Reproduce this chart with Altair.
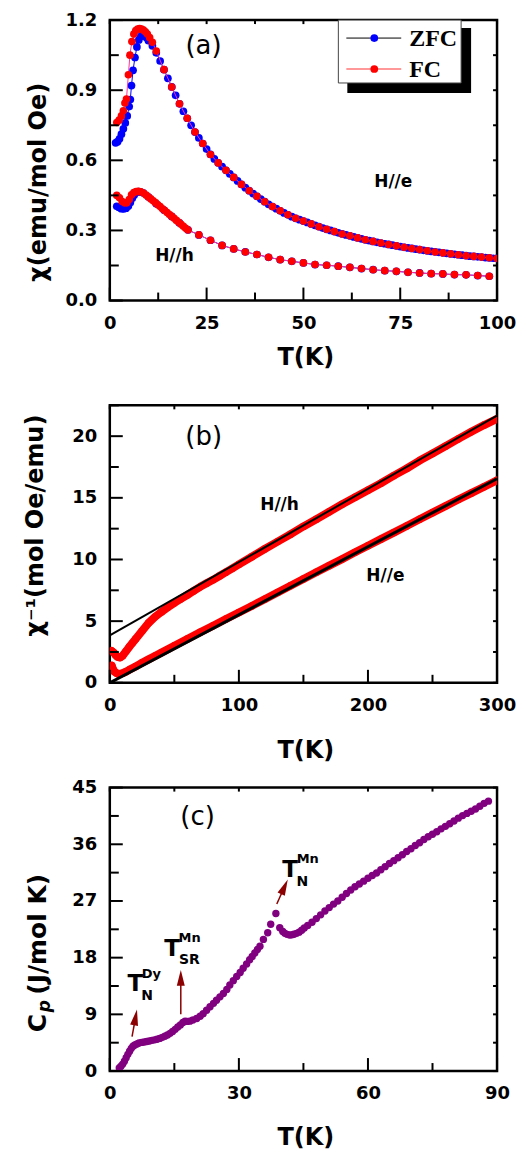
import altair as alt
import pandas as pd

FONT = "DejaVu Sans"

# ---------------- panel (a): chi(T) ----------------
he_zfc_T = [1.5, 2.0, 2.5, 3.0, 3.5, 4.0, 4.5, 5.0, 5.3, 5.6, 6.0, 6.5, 7.0, 7.5, 8.0, 8.5, 9.0, 9.5, 10,
            11, 12, 13, 14, 15, 16, 17, 18, 19, 20, 21, 22, 23, 24, 25, 26, 27, 28, 29, 30,
            31, 32, 33, 34, 35, 36, 37, 38, 39, 40, 41, 42, 43, 44, 45, 46, 47, 48, 49, 50,
            51, 52, 53, 54, 55, 56, 57, 58, 59, 60, 61, 62, 63, 64, 65, 66, 67, 68, 69, 70,
            71, 72, 73, 74, 75, 76, 77, 78, 79, 80, 81, 82, 83, 84, 85, 86, 87, 88, 89, 90,
            91, 92, 93, 94, 95, 96, 97, 98, 99, 100]
he_zfc_chi = [0.675, 0.680, 0.692, 0.712, 0.735, 0.760, 0.790, 0.830, 0.860, 0.920, 0.985, 1.040, 1.085, 1.115,
              1.130, 1.138, 1.135, 1.125, 1.112,
              1.090, 1.060, 1.025, 0.988, 0.951, 0.914, 0.878, 0.842, 0.810, 0.780,
              0.750, 0.721, 0.696, 0.672, 0.648, 0.625, 0.606, 0.589, 0.573, 0.557,
              0.542, 0.527, 0.512, 0.497, 0.483, 0.470, 0.458, 0.446, 0.434, 0.423,
              0.412, 0.402, 0.393, 0.384, 0.375, 0.367, 0.359, 0.352, 0.346, 0.340,
              0.334, 0.328, 0.322, 0.316, 0.310, 0.305, 0.300, 0.295, 0.290, 0.285,
              0.281, 0.277, 0.272, 0.268, 0.264, 0.260, 0.256, 0.253, 0.249, 0.246,
              0.243, 0.240, 0.237, 0.234, 0.231, 0.228, 0.225, 0.223, 0.220, 0.218,
              0.215, 0.213, 0.210, 0.208, 0.206, 0.204, 0.202, 0.200, 0.198, 0.196,
              0.194, 0.192, 0.190, 0.189, 0.187, 0.186, 0.184, 0.183, 0.181, 0.180]

he_fc_T = [1.8, 2.4, 3.0, 3.5, 3.9, 4.3, 4.8, 5.2, 5.7, 6.2, 6.7, 7.2, 7.7, 8.2, 8.7, 9.2, 9.7, 10.3, 11.0,
           12, 14, 16, 18, 20, 22, 24, 26, 28, 30, 32, 34, 36, 38, 40, 42, 44, 46, 48, 50,
           52, 54, 56, 58, 60, 62, 64, 66, 68, 70, 72, 74, 76, 78, 80, 82, 84, 86, 88, 90,
           92, 94, 96, 98, 100]
he_fc_chi = [0.762, 0.772, 0.790, 0.812, 0.845, 0.862, 0.966, 1.050, 1.108, 1.140, 1.155, 1.162, 1.164,
             1.162, 1.157, 1.150, 1.140, 1.125, 1.105,
             1.068, 0.988, 0.914, 0.842, 0.780, 0.721, 0.672, 0.625, 0.589, 0.557, 0.527, 0.497,
             0.470, 0.446, 0.423, 0.402, 0.384, 0.367, 0.352, 0.340, 0.328, 0.316, 0.305, 0.295,
             0.285, 0.277, 0.268, 0.260, 0.253, 0.246, 0.240, 0.234, 0.228, 0.223, 0.218, 0.213,
             0.208, 0.204, 0.200, 0.196, 0.192, 0.189, 0.186, 0.183, 0.180]

hh_fc_T = [1.8, 2.5, 3.2, 3.8, 4.4, 5.0, 5.6, 6.2, 6.8, 7.4, 8.0, 8.7, 9.4, 10.0, 10.6, 11.2, 11.8, 12.4,
           13.0, 13.6, 14.2, 14.8, 15.4, 16.0, 16.6, 17.2, 17.8, 18.4, 19.0, 19.6, 20.2,
           23, 26, 29, 32, 35, 38, 41, 44, 47, 50, 53, 56, 59, 62, 65, 68, 71, 74, 77, 80,
           83, 86, 89, 92, 95, 98]
hh_fc_chi = [0.450, 0.440, 0.424, 0.418, 0.418, 0.432, 0.452, 0.462, 0.466, 0.467, 0.465, 0.460, 0.451,
             0.443, 0.435, 0.427, 0.419, 0.410, 0.402, 0.393, 0.385, 0.377, 0.368, 0.360, 0.352,
             0.343, 0.335, 0.326, 0.318, 0.309, 0.302,
             0.281, 0.258, 0.236, 0.221, 0.208, 0.197, 0.185, 0.175, 0.168, 0.161, 0.154, 0.151,
             0.147, 0.142, 0.137, 0.132, 0.128, 0.125, 0.121, 0.118, 0.115, 0.114, 0.111, 0.110,
             0.107, 0.104]

hh_zfc_T = [1.8, 2.4, 3.0, 3.6, 4.2, 4.8, 5.3, 5.8, 6.3, 6.8, 7.4, 8.0, 8.7, 10, 12, 14, 16, 18, 20.2,
            23, 26, 29, 32, 35, 38, 41, 44, 47, 50, 53, 56, 59, 62, 65, 68, 71, 74, 77, 80,
            83, 86, 89, 92, 95, 98]
hh_zfc_chi = [0.403, 0.398, 0.393, 0.392, 0.395, 0.405, 0.420, 0.438, 0.452, 0.462, 0.466, 0.464, 0.460,
              0.443, 0.414, 0.387, 0.360, 0.332, 0.302,
              0.281, 0.258, 0.236, 0.221, 0.208, 0.197, 0.185, 0.175, 0.168, 0.161, 0.154, 0.151,
              0.147, 0.142, 0.137, 0.132, 0.128, 0.125, 0.121, 0.118, 0.115, 0.114, 0.111, 0.110,
              0.107, 0.104]

# ---------------- panel (b): 1/chi ----------------
b_hh_T = [1.5, 3, 4.5, 6, 8, 10, 12.5, 15, 17.5, 20, 25, 30, 35, 40, 45, 50, 55, 60, 65, 70, 75, 80,
          85, 90, 95, 100, 110, 120, 130, 140, 150, 160, 170, 180, 190, 200, 210, 220, 230, 240,
          250, 260, 270, 280, 290, 300]
b_hh_inv = [2.58, 2.45, 2.25, 2.10, 2.05, 2.20, 2.55, 2.90, 3.22, 3.55, 4.20, 4.85, 5.35, 5.75, 6.12,
            6.48, 6.80, 7.12, 7.45, 7.78, 8.07, 8.35, 8.66, 8.97, 9.28, 9.60, 10.22, 10.85, 11.45,
            12.05, 12.68, 13.27, 13.87, 14.48, 15.05, 15.62, 16.18, 16.80, 17.38, 18.02, 18.60,
            19.18, 19.78, 20.35, 20.90, 21.40]
b_he_T = [1.5, 2.5, 3.5, 5, 6.5, 8, 10, 12.5, 15, 20, 25, 30, 35, 40, 50, 60, 70, 80, 90, 100, 110,
          120, 130, 140, 150, 160, 170, 180, 190, 200, 210, 220, 230, 240, 250, 260, 270, 280, 290, 300]
b_he_inv = [1.40, 1.10, 0.92, 0.80, 0.74, 0.72, 0.78, 0.90, 1.05, 1.33, 1.62, 1.90, 2.18, 2.45, 3.00,
            3.55, 4.10, 4.63, 5.17, 5.70, 6.23, 6.78, 7.33, 7.87, 8.42, 8.97, 9.50, 10.03, 10.58,
            11.12, 11.65, 12.18, 12.72, 13.26, 13.80, 14.33, 14.86, 15.38, 15.90, 16.42]
fit_T = [0, 300]
fit_hh = [3.85, 21.67]
fit_he = [0.0, 16.55]

# ---------------- panel (c): Cp ----------------
c_T = [2.2, 2.6, 3.0, 3.4, 3.8, 4.2, 4.6, 5.0, 5.4, 5.8, 6.3, 6.8, 7.4, 8.0, 8.6, 9.2, 9.8, 10.4, 11.0,
       11.6, 12.2, 12.8, 13.4, 14.0, 14.6, 15.2, 15.8, 16.4, 17.0, 17.5, 18.0, 18.6, 19.3, 20.2, 21.0,
       21.7, 22.5, 23.3, 24.1, 24.8, 25.6, 26.4, 27.2, 27.9, 28.7, 29.5, 30.3, 31.0, 31.8, 32.5, 33.1,
       33.7, 34.3, 34.9, 35.7, 36.7, 37.4, 38.6, 39.5, 40.2, 40.7, 41.2, 41.8, 42.3, 42.8, 43.4, 44.0,
       44.6, 45.2, 46, 47, 48, 49, 50, 51, 52, 53, 54, 55, 56, 57, 58, 59, 60, 61, 62, 63, 64, 65,
       66, 67, 68, 69, 70, 71, 72, 73, 74, 75, 76, 77, 78, 79, 80, 81, 82, 83, 84, 85, 86, 87, 88]
c_Cp = [0.50, 0.75, 1.10, 1.55, 2.10, 2.65, 3.15, 3.60, 3.95, 4.15, 4.30, 4.45, 4.55, 4.62, 4.70, 4.78,
        4.87, 4.95, 5.05, 5.18, 5.35, 5.52, 5.72, 5.98, 6.28, 6.62, 6.98, 7.32, 7.70, 7.90, 7.88, 7.92,
        8.10, 8.35, 8.70, 9.10, 9.65, 10.20, 10.75, 11.25, 11.78, 12.30, 12.95, 13.65, 14.35, 15.00,
        15.65, 16.33, 17.00, 17.67, 18.20, 18.75, 19.30, 19.80, 20.90, 21.95, 23.30, 25.00, 22.76,
        22.15, 21.86, 21.70, 21.60, 21.62, 21.72, 21.86, 22.05, 22.35, 22.70, 23.10, 23.62, 24.20,
        24.80, 25.40, 25.95, 26.50, 27.00, 27.58, 28.18, 28.75, 29.25, 29.70, 30.15, 30.60, 31.05,
        31.45, 31.95, 32.45, 32.95, 33.40, 33.85, 34.35, 34.85, 35.30, 35.80, 36.25, 36.75, 37.20,
        37.60, 38.00, 38.45, 38.85, 39.25, 39.70, 40.15, 40.55, 40.90, 41.25, 41.60, 42.05, 42.50,
        42.85]

# annotations panel (c)
ann_text = ["T", "Dy", "N", "T", "Mn", "SR", "T", "Mn", "N"]
ann_T = [5.96, 9.67, 8.65, 14.45, 18.56, 18.49, 41.92, 46.0, 44.77]
ann_v = [13.76, 15.43, 11.9, 19.45, 21.15, 17.57, 31.98, 33.6, 30.0]
ann_size = [23, 13, 14, 23, 13, 14, 23, 13, 14]
arrow_T0 = [5.17, 16.5, 38.81]
arrow_v0 = [5.46, 9.0, 26.52]
arrow_T1 = [5.98, 16.5, 40.6]
arrow_v1 = [8.53, 14.79, 29.25]
arrow_angle = [10.5, 0, 24.4]

W = 388
ARROW = "#8B0000"


def xy(xdom, xlabels, xfmt, xty, ydom, ylabels, yfmt, ytitle, ytx, yty):
    X = alt.X("T:Q", scale=alt.Scale(domain=xdom, nice=False, zero=False),
              axis=alt.Axis(values=xlabels, format=xfmt, title="T(K)", ticks=False, tickSize=0,
                            domain=False, grid=False, labelFont=FONT, labelFontSize=18,
                            labelFontWeight="bold", labelColor="black", labelPadding=14,
                            labelFlush=False, labelOverlap=False, titleFont=FONT, titleFontSize=24,
                            titleFontWeight="bold", titleColor="black", titleX=196, titleY=xty,
                            titleBaseline="middle", titleAlign="center"))
    yaxis = dict(values=ylabels, format=yfmt, ticks=False, tickSize=0,
                 domain=False, grid=False, labelFont=FONT, labelFontSize=18,
                 labelFontWeight="bold", labelColor="black", labelPadding=13,
                 labelFlush=False, labelOverlap=False)
    if ytitle:
        yaxis.update(title=ytitle, titleFont=FONT, titleFontSize=24, titleFontWeight="bold",
                     titleColor="black", titleX=ytx, titleY=yty, titleAngle=270,
                     titleBaseline="middle", titleAlign="center")
    else:
        yaxis.update(title=None)
    Y = alt.Y("v:Q", scale=alt.Scale(domain=ydom, nice=False, zero=False), axis=alt.Axis(**yaxis))
    return X, Y


def tick_layers(X, Y, xt, xmaj, yt, ymaj, H):
    layers = []
    xmin = [t for t in xt if t not in xmaj]
    ymin = [t for t in yt if t not in ymaj]
    for vals, L in ((xmaj, 13), (xmin, 8)):
        d = pd.DataFrame({"T": vals})
        layers.append(alt.Chart(d).mark_rule(color="black", strokeWidth=2).encode(
            x=X, y=alt.value(H), y2=alt.value(H - L)))
    d = pd.DataFrame({"T": xt})
    layers.append(alt.Chart(d).mark_rule(color="black", strokeWidth=2).encode(
        x=X, y=alt.value(0), y2=alt.value(4)))
    for vals, L in ((ymaj, 13), (ymin, 9)):
        d = pd.DataFrame({"v": vals})
        layers.append(alt.Chart(d).mark_rule(color="black", strokeWidth=2).encode(
            y=Y, x=alt.value(0), x2=alt.value(L)))
    d = pd.DataFrame({"v": yt})
    layers.append(alt.Chart(d).mark_rule(color="black", strokeWidth=2).encode(
        y=Y, x=alt.value(W), x2=alt.value(W - 4)))
    return layers


def txt(X, Y, label, T, v, size, weight="bold", font=FONT):
    d = pd.DataFrame({"T": [T], "v": [v], "label": [label]})
    return alt.Chart(d).mark_text(font=font, fontSize=size, fontWeight=weight, color="black",
                                  align="center", baseline="middle").encode(x=X, y=Y, text="label:N")


dummy = alt.Data(values=[{}])


def ptext(label, px, py, size, weight="bold", style="normal", angle=0, font=FONT, align="center"):
    return alt.Chart(dummy).mark_text(font=font, fontSize=size, fontWeight=weight, fontStyle=style,
                                      angle=angle, color="black", align=align,
                                      baseline="middle").encode(
        x=alt.value(px), y=alt.value(py), text=alt.value(label))


# ---- panel a
Ha = 281
Xa, Ya = xy([0, 100], [0, 25, 50, 75, 100], "d", 57, [0, 1.2], [0, 0.3, 0.6, 0.9, 1.2], ".1f",
            "χ(emu/mol Oe)", -71, 162)
la = []
for Ts, vs, Tf, vf in ((he_zfc_T, he_zfc_chi, he_fc_T, he_fc_chi), (hh_zfc_T, hh_zfc_chi, hh_fc_T, hh_fc_chi)):
    dz = pd.DataFrame({"T": Ts, "v": vs})
    df = pd.DataFrame({"T": Tf, "v": vf})
    la.append(alt.Chart(dz).mark_line(color="#0000ff", strokeWidth=1, clip=True).encode(x=Xa, y=Ya))
    la.append(alt.Chart(dz).mark_circle(color="#0000ff", size=60, opacity=1, clip=True).encode(x=Xa, y=Ya))
    la.append(alt.Chart(df).mark_line(color="#ff3399", strokeWidth=1, clip=True).encode(x=Xa, y=Ya))
    la.append(alt.Chart(df).mark_circle(color="#ff0000", size=58, opacity=1, clip=True).encode(x=Xa, y=Ya))
la += tick_layers(Xa, Ya, [i * 12.5 for i in range(9)], [0, 25, 50, 75, 100],
                  [round(i * 0.15, 2) for i in range(9)], [0, 0.3, 0.6, 0.9, 1.2], Ha)
la.append(txt(Xa, Ya, "(a)", 24.2, 1.087, 26, "normal"))
la.append(txt(Xa, Ya, "H//e", 73.2, 0.506, 17))
la.append(txt(Xa, Ya, "H//h", 16.7, 0.189, 17))
# legend
la.append(alt.Chart(dummy).mark_rect(color="black").encode(
    x=alt.value(238), x2=alt.value(362), y=alt.value(8), y2=alt.value(73)))
la.append(alt.Chart(dummy).mark_rect(fill="white", stroke="#444444", strokeWidth=1).encode(
    x=alt.value(229), x2=alt.value(352), y=alt.value(0), y2=alt.value(63)))
leg_names = ["ZFC", "FC"]
leg_line = ["black", "#ff3333"]
leg_dot = ["#0000ff", "#ff0000"]
leg_y = [18, 49]
for name, lc_, dc, yy in zip(leg_names, leg_line, leg_dot, leg_y):
    la.append(alt.Chart(dummy).mark_rule(color=lc_, strokeWidth=1).encode(
        x=alt.value(237), x2=alt.value(292), y=alt.value(yy)))
    la.append(alt.Chart(dummy).mark_circle(color=dc, size=60, opacity=1).encode(
        x=alt.value(265), y=alt.value(yy)))
    la.append(ptext(name, 300, yy + 1, 24, font="Liberation Serif", align="left"))
pa = alt.layer(*la).properties(width=W, height=Ha)

# ---- panel b
Hb = 278
Xb, Yb = xy([0, 300], [0, 100, 200, 300], "d", 68, [0, 22.5], [0, 5, 10, 15, 20], "d",
            "χ⁻¹(mol Oe/emu)", -74, 120)
lb = []
for Ts, vs in ((b_hh_T, b_hh_inv), (b_he_T, b_he_inv)):
    d = pd.DataFrame({"T": Ts, "v": vs})
    lb.append(alt.Chart(d).mark_line(color="#ff0000", strokeWidth=8, strokeCap="round",
                                     strokeJoin="round", clip=True).encode(x=Xb, y=Yb))
    lb.append(alt.Chart(d).mark_circle(color="#ff0000", size=55, opacity=1, clip=True).encode(x=Xb, y=Yb))
for vals, sw in ((fit_hh, 2), (fit_he, 3)):
    d = pd.DataFrame({"T": fit_T, "v": vals})
    lb.append(alt.Chart(d).mark_line(color="black", strokeWidth=sw, clip=True).encode(x=Xb, y=Yb))
lb += tick_layers(Xb, Yb, [i * 50 for i in range(7)], [0, 100, 200, 300],
                  [i * 2.5 for i in range(10)], [0, 5, 10, 15, 20], Hb)
lb.append(txt(Xb, Yb, "(b)", 72.7, 19.9, 26, "normal"))
lb.append(txt(Xb, Yb, "H//h", 131.5, 14.4, 17))
lb.append(txt(Xb, Yb, "H//e", 213.5, 8.7, 17))
pb = alt.layer(*lb).properties(width=W, height=Hb)

# ---- panel c
Hc = 284
Xc, Yc = xy([0, 90], [0, 30, 60, 90], "d", 67, [0, 45], [0, 9, 18, 27, 36, 45], "d",
            None, 0, 0)
lc = []
dcp = pd.DataFrame({"T": c_T, "v": c_Cp})
lc.append(alt.Chart(dcp).mark_circle(color="#800080", size=55, opacity=1, clip=True).encode(x=Xc, y=Yc))
for t0, v0, t1, v1, ang in zip(arrow_T0, arrow_v0, arrow_T1, arrow_v1, arrow_angle):
    d = pd.DataFrame({"T": [t0], "v": [v0], "T2": [t1], "v2": [v1]})
    lc.append(alt.Chart(d).mark_rule(color=ARROW, strokeWidth=1.5).encode(
        x=Xc, y=Yc, x2="T2:Q", y2="v2:Q"))
    dh = pd.DataFrame({"T": [t1], "v": [v1]})
    lc.append(alt.Chart(dh).mark_point(shape="M0,-1L0.5,1L-0.5,1Z", filled=True, color=ARROW,
                                       size=256, opacity=1, angle=ang, strokeWidth=0).encode(x=Xc, y=Yc))
da = pd.DataFrame({"T": ann_T, "v": ann_v, "label": ann_text, "s": ann_size})
lc.append(alt.Chart(da).mark_text(font=FONT, fontWeight="bold", color="black", align="center",
                                  baseline="middle").encode(
    x=Xc, y=Yc, text="label:N", size=alt.Size("s:Q", scale=None, legend=None)))
lc += tick_layers(Xc, Yc, [i * 15 for i in range(7)], [0, 30, 60, 90],
                  [i * 4.5 for i in range(11)], [0, 9, 18, 27, 36, 45], Hc)
lc.append(txt(Xc, Yc, "(c)", 20.4, 40.4, 26, "normal"))
# y title of (c): C with italic subscript p
lc.append(ptext("C", -72, 236, 25, angle=270))
lc.append(ptext("p", -65, 219, 17, style="italic", angle=270))
lc.append(ptext("(J/mol K)", -72, 147, 25, angle=270))
pc = alt.layer(*lc).properties(width=W, height=Hc)

chart = alt.vconcat(pa, pb, pc, spacing=105, bounds="flush").properties(
    padding={"left": 14, "top": 0, "right": 0, "bottom": 0}
).configure_view(stroke="black", strokeWidth=2.5)

chart.save("out.html", embed_options={"renderer": "svg", "actions": False})
